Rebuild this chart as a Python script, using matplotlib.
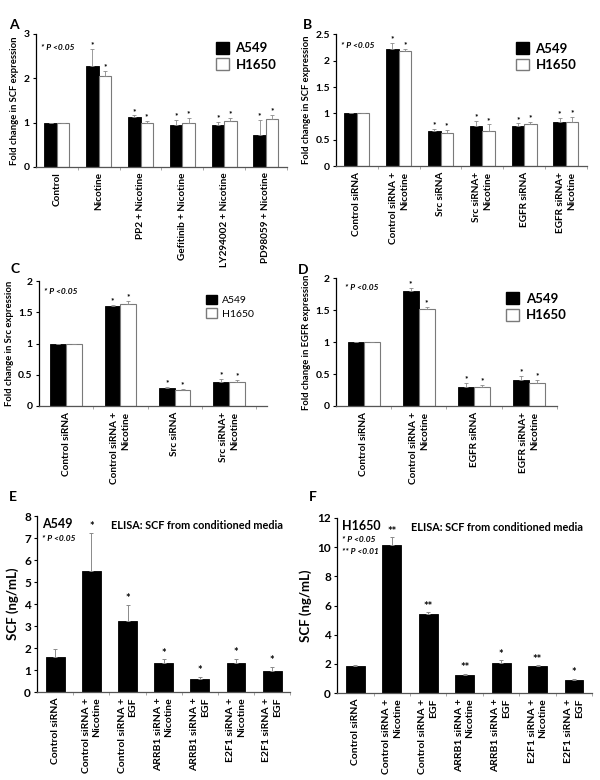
import numpy as np
import matplotlib
matplotlib.use("Agg")
import matplotlib.pyplot as plt
from matplotlib.patches import Patch

plt.rcParams['font.family'] = ['Lato', 'DejaVu Sans']
plt.rcParams['font.weight'] = 'bold'
plt.rcParams['axes.labelweight'] = 'bold'

# ---- Panel A: SCF expression, inhibitors ----
a_groups = ["Control", "Nicotine", "PP2 + Nicotine", "Gefitinib + Nicotine",
            "LY294002 + Nicotine", "PD98059 + Nicotine"]
a_a549 = [1.0, 2.27, 1.13, 0.94, 0.94, 0.73]
a_a549_err = [0, 0.39, 0.03, 0.12, 0.08, 0.33]
a_h1650 = [1.0, 2.06, 1.0, 0.98, 1.04, 1.09]
a_h1650_err = [0, 0.11, 0.04, 0.12, 0.06, 0.08]

# ---- Panel B: SCF expression, siRNA ----
b_groups = ["Control siRNA", "Control siRNA +\nNicotine", "Src siRNA",
            "Src siRNA+\nNicotine", "EGFR siRNA", "EGFR siRNA+\nNicotine"]
b_a549 = [1.0, 2.23, 0.67, 0.77, 0.76, 0.84]
b_a549_err = [0, 0.10, 0.03, 0.08, 0.05, 0.08]
b_h1650 = [1.0, 2.18, 0.63, 0.67, 0.79, 0.84]
b_h1650_err = [0, 0.05, 0.06, 0.12, 0.05, 0.09]

# ---- Panel C: Src expression ----
c_groups = ["Control siRNA", "Control siRNA +\nNicotine", "Src siRNA", "Src siRNA+\nNicotine"]
c_a549 = [1.0, 1.60, 0.29, 0.38]
c_a549_err = [0, 0.02, 0.01, 0.05]
c_h1650 = [1.0, 1.64, 0.25, 0.38]
c_h1650_err = [0, 0.04, 0.03, 0.04]

# ---- Panel D: EGFR expression ----
d_groups = ["Control siRNA", "Control siRNA +\nNicotine", "EGFR siRNA", "EGFR siRNA+\nNicotine"]
d_a549 = [1.0, 1.80, 0.30, 0.41]
d_a549_err = [0, 0.04, 0.06, 0.06]
d_h1650 = [1.0, 1.52, 0.30, 0.36]
d_h1650_err = [0, 0.03, 0.03, 0.05]

# ---- Panels E/F: ELISA ----
ef_groups = ["Control siRNA", "Control siRNA +\nNicotine", "Control siRNA +\nEGF",
             "ARRB1 siRNA +\nNicotine", "ARRB1 siRNA +\nEGF", "E2F1 siRNA +\nNicotine",
             "E2F1 siRNA +\nEGF"]
e_vals = [1.57, 5.48, 3.22, 1.30, 0.57, 1.31, 0.97]
e_err = [0.39, 1.77, 0.75, 0.19, 0.11, 0.21, 0.18]
e_stars = ["", "*", "*", "*", "*", "*", "*"]
f_vals = [1.87, 10.17, 5.42, 1.26, 2.06, 1.83, 0.91]
f_err = [0.04, 0.50, 0.11, 0.04, 0.18, 0.07, 0.07]
f_stars = ["", "**", "**", "**", "*", "**", "*"]

ERR_COLOR = "#8a8a8a"
EDGE_GRAY = "#7a7a7a"
B = "bold"


def style_axes(ax, n, xmax=None, ysize=7.5):
    for s in ["top", "right"]:
        ax.spines[s].set_visible(False)
    ax.spines["left"].set_linewidth(0.9)
    ax.spines["bottom"].set_linewidth(0.9)
    ax.spines["bottom"].set_color("#555555")
    ax.set_xlim(-0.5, n - 0.5 if xmax is None else xmax)
    ax.set_xticks(np.arange(n))
    ax.set_xticks(np.arange(n) + 0.5, minor=True)
    ax.tick_params(axis="x", which="major", length=0, pad=4)
    ax.tick_params(axis="x", which="minor", length=2, color="#999999", direction="out")
    ax.tick_params(axis="y", length=2.5, width=0.8, pad=2, labelsize=ysize)
    for t in ax.get_yticklabels():
        t.set_fontweight(B)


def star(ax, x, y, s, fs=6):
    ax.annotate(s, (x, y), xytext=(0, 0.5), textcoords="offset points",
                ha="center", va="bottom", fontsize=fs, fontweight=B)


def grouped_panel(ax, groups, v1, e1, v2, e2, ylim, yticks, ylabel, width=0.3,
                  xmax=None, label_fs=7.2):
    n = len(groups)
    x = np.arange(n)
    ax.bar(x - width / 2, v1, width, color="black", edgecolor="black", linewidth=0.6)
    ax.bar(x + width / 2, v2, width, color="white", edgecolor=EDGE_GRAY, linewidth=0.8)
    ax.errorbar(x - width / 2, v1, yerr=[np.zeros(n), e1], fmt="none", ecolor=ERR_COLOR,
                elinewidth=0.6, capsize=1.2, capthick=0.6)
    ax.errorbar(x + width / 2, v2, yerr=[np.zeros(n), e2], fmt="none", ecolor=ERR_COLOR,
                elinewidth=0.6, capsize=1.2, capthick=0.6)
    for i in range(1, n):
        star(ax, x[i] - width / 2, v1[i] + e1[i], "*")
        star(ax, x[i] + width / 2, v2[i] + e2[i], "*")
    ax.set_ylim(*ylim)
    ax.set_yticks(yticks)
    ax.set_yticklabels([f"{t:g}" for t in yticks])
    ax.set_ylabel(ylabel, fontsize=6.8, fontweight=B, labelpad=3)
    style_axes(ax, n, xmax)
    ax.set_xticklabels(groups, rotation=90, fontsize=label_fs, fontweight=B,
                       multialignment="right", linespacing=1.3)


def legend(ax, x, y, fs=9.5, weight="bold"):
    handles = [Patch(facecolor="black", edgecolor="black"),
               Patch(facecolor="white", edgecolor=EDGE_GRAY)]
    ax.legend(handles, ["A549", "H1650"], loc="upper left", bbox_to_anchor=(x, y),
              frameon=False, borderpad=0, handlelength=1.0, handleheight=1.0,
              handletextpad=0.5, labelspacing=0.3, prop={"size": fs, "weight": weight})


fig = plt.figure(figsize=(6, 7.8), dpi=100)

# A
axA = fig.add_axes([0.06, 0.786, 0.418, 0.1705])
grouped_panel(axA, a_groups, a_a549, a_a549_err, a_h1650, a_h1650_err,
              (0, 3), [0, 1, 2, 3], "Fold change in SCF expression")
legend(axA, 0.69, 0.99)
axA.text(0.02, 0.88, "* P <0.05", transform=axA.transAxes, fontsize=6, style="italic",
         fontweight=B)

# B
axB = fig.add_axes([0.56, 0.787, 0.418, 0.169])
grouped_panel(axB, b_groups, b_a549, b_a549_err, b_h1650, b_h1650_err,
              (0, 2.5), [0, 0.5, 1, 1.5, 2, 2.5], "Fold change in SCF expression")
legend(axB, 0.69, 0.99)
axB.text(0.02, 0.9, "* P <0.05", transform=axB.transAxes, fontsize=6, style="italic",
         fontweight=B)

# C
axC = fig.add_axes([0.065, 0.4795, 0.38, 0.160])
grouped_panel(axC, c_groups, c_a549, c_a549_err, c_h1650, c_h1650_err,
              (0, 2), [0, 0.5, 1, 1.5, 2], "Fold change in Src expression",
              width=0.29, xmax=3.7)
legend(axC, 0.71, 0.93, fs=7.5, weight="normal")
axC.text(0.02, 0.9, "* P <0.05", transform=axC.transAxes, fontsize=6, style="italic",
         fontweight=B)

# D
axD = fig.add_axes([0.56, 0.4795, 0.368, 0.164])
grouped_panel(axD, d_groups, d_a549, d_a549_err, d_h1650, d_h1650_err,
              (0, 2), [0, 0.5, 1, 1.5, 2], "Fold change in EGFR expression",
              width=0.29)
legend(axD, 0.74, 0.94)
axD.text(0.04, 0.91, "* P <0.05", transform=axD.transAxes, fontsize=6, style="italic",
         fontweight=B)


def elisa_panel(ax, vals, err, stars, ylim, yticks, cell, notes):
    n = len(ef_groups)
    x = np.arange(n)
    ax.bar(x, vals, 0.52, color="black", edgecolor="black", linewidth=0.6)
    ax.errorbar(x, vals, yerr=[np.zeros(n), err], fmt="none", ecolor=ERR_COLOR,
                elinewidth=0.7, capsize=1.5, capthick=0.7)
    for i in range(n):
        if stars[i]:
            star(ax, x[i], vals[i] + err[i], stars[i], fs=8)
    ax.set_ylim(*ylim)
    ax.set_yticks(yticks)
    ax.set_ylabel("SCF (ng/mL)", fontsize=9.5, fontweight=B, labelpad=4)
    style_axes(ax, n, ysize=8.5)
    ax.set_xticklabels(ef_groups, rotation=90, fontsize=7.5, fontweight=B,
                       multialignment="right", linespacing=1.25)
    ax.text(0.02, 0.955, cell, transform=ax.transAxes, fontsize=9, fontweight=B,
            va="center")
    for k, note in enumerate(notes):
        ax.text(0.02, 0.875 - k * 0.065, note, transform=ax.transAxes, fontsize=6,
                style="italic", fontweight=B, va="center")
    ax.text(0.29, 0.945, "ELISA: SCF from conditioned media", transform=ax.transAxes,
            fontsize=7.8, fontweight=B, va="center")


# E
axE = fig.add_axes([0.062, 0.1128, 0.4217, 0.2256])
elisa_panel(axE, e_vals, e_err, e_stars, (0, 8), range(0, 9), "A549", ["* P <0.05"])

# F
axF = fig.add_axes([0.562, 0.1115, 0.425, 0.2244])
elisa_panel(axF, f_vals, f_err, f_stars, (0, 12), range(0, 13, 2), "H1650",
            ["* P <0.05", "** P <0.01"])

# panel letters
for lab, px, py in [("A", 14, 25), ("B", 307, 25), ("C", 15, 269),
                    ("D", 303, 270), ("E", 13, 497), ("F", 313, 497)]:
    fig.text(px / 600, 1 - py / 780, lab, fontsize=10, fontweight=B,
             ha="center", va="center")

fig.savefig("out.png", dpi=100)
